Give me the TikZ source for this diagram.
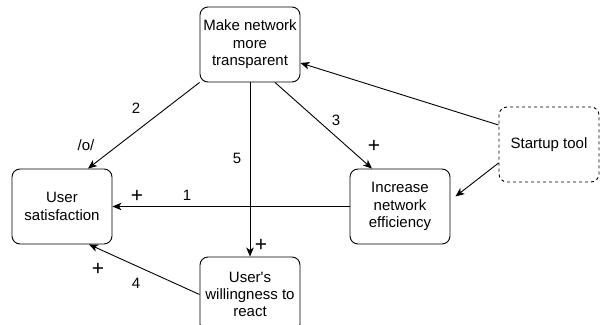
\documentclass[tikz,border=0pt]{standalone}
\usepackage{fontspec}
\setmainfont{Liberation Sans}
\usetikzlibrary{arrows.meta}
\tikzset{
  cbox/.style = {draw=black, rounded corners=8pt, align=center,
    minimum width=100pt, minimum height=75pt, inner sep=0pt,
    font=\fontsize{15}{17.4}\selectfont},% boite du schema
  cbox_d/.style = {cbox, dashed},% boite en pointilles
  lbl/.style = {font=\fontsize{15}{17}\selectfont, inner sep=0pt},% etiquette
  pls/.style = {font=\fontsize{21}{21}\selectfont, inner sep=0pt}% signe plus
}

\begin{document}
\begin{tikzpicture}[x=1pt,y=-1pt,->,>={Stealth[length=9pt,width=7.5pt,inset=2.5pt]},line width=0.9pt]
\useasboundingbox (0,0) rectangle (601,324);
\node [cbox] (transp) at (250,44.5) {Make network\\more\\transparent};
\node [cbox] (usat) at (62,206.5) {User\\satisfaction};
\node [cbox] (effic) at (400,206.5) {Increase\\network\\efficiency};
\node [cbox] (react) at (250,294.5) {User\textquotesingle s\\willingness to\\react};
\node [cbox_d] (tool) at (549,144.5) {Startup tool};

\draw (transp.south west) -- ([xshift=26pt]usat.north);
\draw ([xshift=25pt]transp.south) -- ([xshift=-28pt]effic.north);
\draw (transp.south) -- (react.north);
\draw (effic.west) -- (usat.east);
\draw (react.west) -- ([xshift=27pt]usat.south);
\draw ([yshift=19.5pt]tool.west) -- ([yshift=-18.5pt]transp.east);
\draw ([yshift=-18.5pt]tool.west) -- ([xshift=5pt,yshift=10pt]effic.east);

\node [lbl] (l2) at (136,108) {2};
\node [lbl] (lo) at (86,145) {/o/};
\node [lbl] (l3) at (336,120) {3};
\node [pls] (p3) at (374,146) {+};
\node [lbl] (l5) at (237,158) {5};
\node [pls] (p1) at (137,196) {+};
\node [lbl] (l1) at (187,195) {1};
\node [pls] (p5) at (261,245) {+};
\node [pls] (p4) at (98,269) {+};
\node [lbl] (l4) at (136,283) {4};
\end{tikzpicture}
\end{document}
